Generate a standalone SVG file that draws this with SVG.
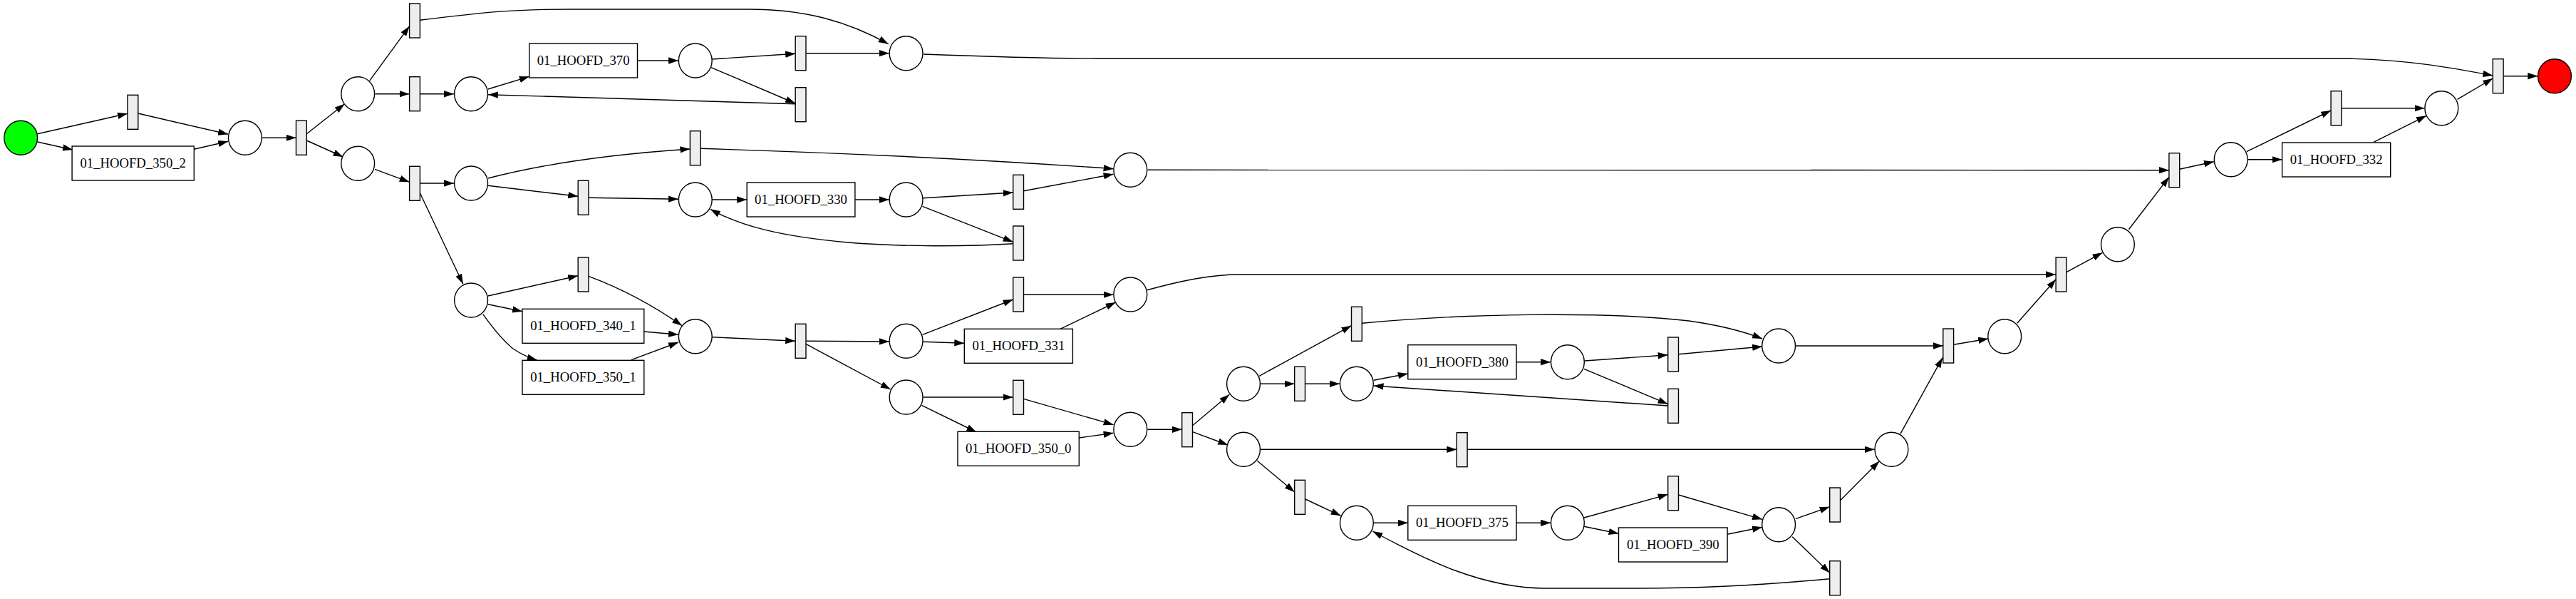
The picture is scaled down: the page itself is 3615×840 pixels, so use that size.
<svg xmlns="http://www.w3.org/2000/svg" width="3615" height="840" viewBox="0 0 3615 840">
<style>
.pl{fill:#ffffff;stroke:#000;stroke-width:1.4}
.tr{fill:#eeeeee;stroke:#000;stroke-width:1.4}
.lt{fill:#ffffff;stroke:#000;stroke-width:1.4}
.tx{font-family:"Liberation Serif","Times New Roman",serif;font-size:18.7px;text-anchor:middle;fill:#000}
.e{fill:none;stroke:#000;stroke-width:1.4;marker-end:url(#a)}
</style>
<defs>
<marker id="a" markerWidth="14" markerHeight="10" refX="14" refY="4.7" orient="auto" markerUnits="userSpaceOnUse"><path d="M0,0 L14,4.7 L0,9.4 z" fill="#000"/></marker>
</defs>
<rect width="3615" height="840" fill="#fff"/>
<g id="connectors">
<path class="e" d="M52.5,187.7 L179,159.3"/>
<path class="e" d="M52.5,199 L102,210"/>
<path class="e" d="M193.7,159 L320.2,188.3"/>
<path class="e" d="M272.3,209.3 L320.2,198.3"/>
<path class="e" d="M367.6,193.3 L415.5,193.3"/>
<path class="e" d="M430.3,187.7 L483.6,145.7"/>
<path class="e" d="M430.3,197 L481.6,220"/>
<path class="e" d="M518.6,113.3 L574.6,36.7"/>
<path class="e" d="M526.4,131.7 L574.6,131.7"/>
<path class="e" d="M526,237.3 L574.6,255.3"/>
<path class="e" d="M589.4,28.3 C680,17 720,13 800,13 L1050,13 C1130,13 1190,30 1246.7,61.7"/>
<path class="e" d="M589.4,131.7 L637,131.7"/>
<path class="e" d="M684.8,125 L742.8,107.3"/>
<path class="e" d="M894.5,85 L952.1,85"/>
<path class="e" d="M999.5,83 L1116.2,75.3"/>
<path class="e" d="M998,94.7 L1116.2,145"/>
<path class="e" d="M1116.2,145.7 L684.8,132.7"/>
<path class="e" d="M1131.4,74.7 L1247.8,74.7"/>
<path class="e" d="M1296,76 C1400,80 1480,82.3 1560,82.3 L3300,82.3 C3380,84 3440,95 3498.3,106"/>
<path class="e" d="M589.4,257 L637,257"/>
<path class="e" d="M589.4,270.7 L649.8,398.3"/>
<path class="e" d="M684.8,250 Q800,220 968.4,209"/>
<path class="e" d="M684.8,260.3 L811.2,275.3"/>
<path class="e" d="M826,277.3 L952.1,279.3"/>
<path class="e" d="M999.5,280 L1048.2,280"/>
<path class="e" d="M1200,280 L1247.8,280"/>
<path class="e" d="M983.2,208.3 Q1300,218 1562.6,236.7"/>
<path class="e" d="M1295.3,277.7 L1421.7,270"/>
<path class="e" d="M1294.5,289.3 L1421.7,339.3"/>
<path class="e" d="M1421.7,341.7 C1360,346 1260,346 1190,340 C1100,332 1040,318 996.8,293.3"/>
<path class="e" d="M1436.5,267.7 L1562.6,244.3"/>
<path class="e" d="M1610.4,238.3 L3043.9,238.7"/>
<path class="e" d="M684.8,415 L811.2,386.7"/>
<path class="e" d="M684.8,426.7 L733,436.7"/>
<path class="e" d="M677.8,440.7 C693,462 706,478 720,489 C732,497 743,502 753.7,505"/>
<path class="e" d="M826,387.3 C860,400 905,420 957.1,456.7"/>
<path class="e" d="M903.8,465 L952.1,469.3"/>
<path class="e" d="M886,504.7 L952.1,480"/>
<path class="e" d="M999.5,472.7 L1116.2,478.3"/>
<path class="e" d="M1131.4,478.3 L1247.8,479"/>
<path class="e" d="M1131.4,482.7 L1249.8,546"/>
<path class="e" d="M1294.5,469.3 L1421.7,420"/>
<path class="e" d="M1295.3,479.3 L1353.3,481.3"/>
<path class="e" d="M1436.5,413.3 L1562.6,413.3"/>
<path class="e" d="M1487.9,461.3 L1565.7,424"/>
<path class="e" d="M1609.7,406.7 C1660,393 1700,385 1740,385 L2885.1,385"/>
<path class="e" d="M1295.3,557 L1421.7,557"/>
<path class="e" d="M1293.4,568.3 L1370.4,606"/>
<path class="e" d="M1436.5,559.3 L1562.6,595.7"/>
<path class="e" d="M1514.3,614 L1562.6,607.3"/>
<path class="e" d="M1610.4,602.3 L1658.7,602.3"/>
<path class="e" d="M1673,597.3 L1725.2,553.3"/>
<path class="e" d="M1673,605.3 L1723.2,624"/>
<path class="e" d="M1767.2,527.3 L1896.5,456.7"/>
<path class="e" d="M1768.8,538.3 L1816.7,538.3"/>
<path class="e" d="M1831.9,538.3 L1880.1,538.3"/>
<path class="e" d="M1927.6,533.3 L1975.8,524"/>
<path class="e" d="M2128,507.7 L2176.2,507.7"/>
<path class="e" d="M2224,506 L2340.7,497.7"/>
<path class="e" d="M2222.9,517.3 L2340.7,566.7"/>
<path class="e" d="M2340.7,569 L1927.6,541"/>
<path class="e" d="M1911.3,453.3 C2050,440 2250,436 2370,450 C2420,457 2450,466 2473.1,475"/>
<path class="e" d="M2355.5,496.7 L2473.1,486"/>
<path class="e" d="M2519.8,485 L2726.8,485"/>
<path class="e" d="M1768.8,630.3 L2044.3,630.3"/>
<path class="e" d="M2059.1,630.3 L2630.7,630.3"/>
<path class="e" d="M1764.1,646 L1816.7,690"/>
<path class="e" d="M1831.9,700 L1881.7,723.3"/>
<path class="e" d="M1927.6,733.3 L1975.8,733.3"/>
<path class="e" d="M2128,733.3 L2176.2,733.3"/>
<path class="e" d="M2222.9,726 L2340.7,693.3"/>
<path class="e" d="M2222.9,738.3 L2271.5,748.3"/>
<path class="e" d="M2355.5,694 L2473.1,728.3"/>
<path class="e" d="M2424.1,749.3 L2473.1,739.3"/>
<path class="e" d="M2519.8,727.7 L2567.7,710.7"/>
<path class="e" d="M2515.2,752.7 L2567.7,803.3"/>
<path class="e" d="M2567.7,811.7 C2480,820 2400,825 2300,825 L2170,825 C2080,825 2000,785 1926.4,745"/>
<path class="e" d="M2582.5,701.7 L2637.3,646.7"/>
<path class="e" d="M2666.9,608.3 L2726,501.7"/>
<path class="e" d="M2741.6,483.3 L2790.2,475"/>
<path class="e" d="M2830.7,453.3 L2885.1,391.7"/>
<path class="e" d="M2899.9,381.7 L2950.5,354.3"/>
<path class="e" d="M2987.4,321.7 L3043.9,248.3"/>
<path class="e" d="M3058.7,237.3 L3106.9,226.7"/>
<path class="e" d="M3152.8,212.7 L3271.1,155"/>
<path class="e" d="M3154.8,223.7 L3202.6,223.7"/>
<path class="e" d="M3285.9,151.7 L3402.6,151.7"/>
<path class="e" d="M3331,199.3 L3404.9,162.3"/>
<path class="e" d="M3448.5,139.3 L3498.3,110"/>
<path class="e" d="M3513.1,106.7 L3561.3,106.7"/>
</g>
<g id="start"><ellipse cx="29.2" cy="193.3" rx="23.4" ry="24" fill="#00ff00" stroke="#000" stroke-width="1.4"/></g>
<g id="end"><ellipse cx="3585" cy="106.7" rx="23.4" ry="24" fill="#ff0000" stroke="#000" stroke-width="1.4"/></g>
<g id="p1"><ellipse class="pl" cx="343.9" cy="193.3" rx="23.4" ry="24"/></g>
<g id="p2"><ellipse class="pl" cx="502.2" cy="131.7" rx="23.4" ry="24"/></g>
<g id="p3"><ellipse class="pl" cx="502.2" cy="229.3" rx="23.4" ry="24"/></g>
<g id="p4"><ellipse class="pl" cx="661.1" cy="131.7" rx="23.4" ry="24"/></g>
<g id="p5"><ellipse class="pl" cx="975.8" cy="85" rx="23.4" ry="24"/></g>
<g id="p6"><ellipse class="pl" cx="661.1" cy="257" rx="23.4" ry="24"/></g>
<g id="p7"><ellipse class="pl" cx="975.8" cy="280" rx="23.4" ry="24"/></g>
<g id="p8"><ellipse class="pl" cx="661.1" cy="421" rx="23.4" ry="24"/></g>
<g id="p9"><ellipse class="pl" cx="975.8" cy="471.7" rx="23.4" ry="24"/></g>
<g id="p10"><ellipse class="pl" cx="1271.6" cy="74.7" rx="23.4" ry="24"/></g>
<g id="p11"><ellipse class="pl" cx="1586.3" cy="238.3" rx="23.4" ry="24"/></g>
<g id="p12"><ellipse class="pl" cx="1271.6" cy="280" rx="23.4" ry="24"/></g>
<g id="p13"><ellipse class="pl" cx="1586.3" cy="413" rx="23.4" ry="24"/></g>
<g id="p14"><ellipse class="pl" cx="1271.6" cy="478.3" rx="23.4" ry="24"/></g>
<g id="p15"><ellipse class="pl" cx="1271.6" cy="557" rx="23.4" ry="24"/></g>
<g id="p16"><ellipse class="pl" cx="1586.3" cy="602.3" rx="23.4" ry="24"/></g>
<g id="p17"><ellipse class="pl" cx="1745" cy="538.3" rx="23.4" ry="24"/></g>
<g id="p18"><ellipse class="pl" cx="1745" cy="630.3" rx="23.4" ry="24"/></g>
<g id="p19"><ellipse class="pl" cx="1903.9" cy="538.3" rx="23.4" ry="24"/></g>
<g id="p20"><ellipse class="pl" cx="2199.9" cy="507.7" rx="23.4" ry="24"/></g>
<g id="p21"><ellipse class="pl" cx="1903.9" cy="733.3" rx="23.4" ry="24"/></g>
<g id="p22"><ellipse class="pl" cx="2199.9" cy="733.3" rx="23.4" ry="24"/></g>
<g id="p23"><ellipse class="pl" cx="2496.1" cy="485" rx="23.4" ry="24"/></g>
<g id="p24"><ellipse class="pl" cx="2813.2" cy="471.7" rx="23.4" ry="24"/></g>
<g id="p25"><ellipse class="pl" cx="2654.4" cy="630.3" rx="23.4" ry="24"/></g>
<g id="p26"><ellipse class="pl" cx="2496.1" cy="735.7" rx="23.4" ry="24"/></g>
<g id="p27"><ellipse class="pl" cx="2971.9" cy="342.7" rx="23.4" ry="24"/></g>
<g id="p28"><ellipse class="pl" cx="3130.7" cy="223.7" rx="23.4" ry="24"/></g>
<g id="p29"><ellipse class="pl" cx="3426.3" cy="151.7" rx="23.4" ry="24"/></g>
<g id="t1"><rect class="tr" x="179" y="133.3" width="14.8" height="48"/></g>
<g id="t2"><rect class="tr" x="415.5" y="169.3" width="14.8" height="48"/></g>
<g id="t3"><rect class="tr" x="574.6" y="5" width="14.8" height="48"/></g>
<g id="t4"><rect class="tr" x="574.6" y="107.7" width="14.8" height="48"/></g>
<g id="t5"><rect class="tr" x="574.6" y="233.3" width="14.8" height="48"/></g>
<g id="t6"><rect class="tr" x="1116.2" y="50.7" width="14.8" height="48"/></g>
<g id="t7"><rect class="tr" x="1116.2" y="122.7" width="14.8" height="48"/></g>
<g id="t8"><rect class="tr" x="968.4" y="183.7" width="14.8" height="48"/></g>
<g id="t9"><rect class="tr" x="811.2" y="253.3" width="14.8" height="48"/></g>
<g id="t10"><rect class="tr" x="811.2" y="361" width="14.8" height="48"/></g>
<g id="t11"><rect class="tr" x="1116.2" y="454.3" width="14.8" height="48"/></g>
<g id="t12"><rect class="tr" x="1421.7" y="245.3" width="14.8" height="48"/></g>
<g id="t13"><rect class="tr" x="1421.7" y="317" width="14.8" height="48"/></g>
<g id="t14"><rect class="tr" x="1421.7" y="389" width="14.8" height="48"/></g>
<g id="t15"><rect class="tr" x="1421.7" y="533.3" width="14.8" height="48"/></g>
<g id="t16"><rect class="tr" x="1658.7" y="578.7" width="14.8" height="48"/></g>
<g id="t17"><rect class="tr" x="1896.5" y="430.3" width="14.8" height="48"/></g>
<g id="t18"><rect class="tr" x="1816.7" y="514.3" width="14.8" height="48"/></g>
<g id="t19"><rect class="tr" x="2340.7" y="473" width="14.8" height="48"/></g>
<g id="t20"><rect class="tr" x="2340.7" y="545.3" width="14.8" height="48"/></g>
<g id="t21"><rect class="tr" x="2044.3" y="606.7" width="14.8" height="48"/></g>
<g id="t22"><rect class="tr" x="1816.7" y="673.3" width="14.8" height="48"/></g>
<g id="t23"><rect class="tr" x="2340.7" y="667.7" width="14.8" height="48"/></g>
<g id="t24"><rect class="tr" x="2726.8" y="461" width="14.8" height="48"/></g>
<g id="t25"><rect class="tr" x="2567.7" y="684" width="14.8" height="48"/></g>
<g id="t26"><rect class="tr" x="2567.7" y="786.7" width="14.8" height="48"/></g>
<g id="t27"><rect class="tr" x="2885.1" y="361" width="14.8" height="48"/></g>
<g id="t28"><rect class="tr" x="3043.9" y="214.7" width="14.8" height="48"/></g>
<g id="t29"><rect class="tr" x="3271.1" y="127.7" width="14.8" height="48"/></g>
<g id="t30"><rect class="tr" x="3498.3" y="82.7" width="14.8" height="48"/></g>
<g id="h350_2"><rect class="lt" x="101.1" y="205" width="171.2" height="48"/><text class="tx" x="186.7" y="235">01_HOOFD_350_2</text></g>
<g id="h370"><rect class="lt" x="742.8" y="61" width="151.7" height="48"/><text class="tx" x="818.6" y="91">01_HOOFD_370</text></g>
<g id="h330"><rect class="lt" x="1048.2" y="256" width="151.7" height="48"/><text class="tx" x="1124" y="286">01_HOOFD_330</text></g>
<g id="h340_1"><rect class="lt" x="733" y="433.3" width="170.8" height="48"/><text class="tx" x="818.4" y="463.3">01_HOOFD_340_1</text></g>
<g id="h350_1"><rect class="lt" x="733" y="505.3" width="170.8" height="48"/><text class="tx" x="818.4" y="535.3">01_HOOFD_350_1</text></g>
<g id="h331"><rect class="lt" x="1353.3" y="461.3" width="152.1" height="48"/><text class="tx" x="1429.4" y="491.3">01_HOOFD_331</text></g>
<g id="h350_0"><rect class="lt" x="1344" y="605.3" width="170.3" height="48"/><text class="tx" x="1429.2" y="635.3">01_HOOFD_350_0</text></g>
<g id="h380"><rect class="lt" x="1975.8" y="483.7" width="152.2" height="48"/><text class="tx" x="2051.9" y="513.7">01_HOOFD_380</text></g>
<g id="h375"><rect class="lt" x="1975.8" y="709.3" width="152.2" height="48"/><text class="tx" x="2051.9" y="739.3">01_HOOFD_375</text></g>
<g id="h390"><rect class="lt" x="2271.5" y="740" width="152.6" height="48"/><text class="tx" x="2347.8" y="770">01_HOOFD_390</text></g>
<g id="h332"><rect class="lt" x="3202.6" y="200" width="152.1" height="48"/><text class="tx" x="3278.6" y="230">01_HOOFD_332</text></g>
</svg>
